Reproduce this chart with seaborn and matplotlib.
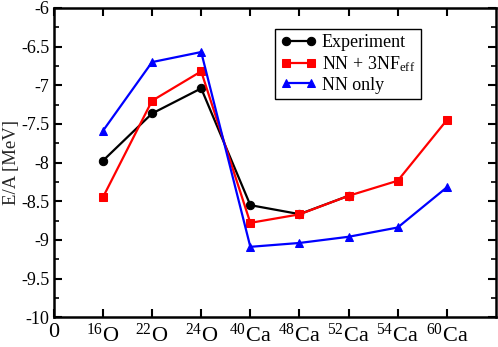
import pandas as pd
import matplotlib
matplotlib.use("Agg")
import matplotlib.pyplot as plt
import seaborn as sns

# isotope labels and values (E/A in MeV)
nuclei = [r'$^{16}$O', r'$^{22}$O', r'$^{24}$O', r'$^{40}$Ca', r'$^{48}$Ca',
          r'$^{52}$Ca', r'$^{54}$Ca', r'$^{60}$Ca']
exp_vals = [-7.976, -7.365, -7.04, -8.551, -8.667, -8.43]
nn3nf_vals = [-8.45, -7.20, -6.82, -8.78, -8.67, -8.43, -8.235, -7.45]
nn_vals = [-7.59, -6.70, -6.57, -9.09, -9.04, -8.96, -8.84, -8.32]
y_ticks = [-10, -9.5, -9, -8.5, -8, -7.5, -7, -6.5, -6]
y_labels = ['-10', '-9.5', '-9', '-8.5', '-8', '-7.5', '-7', '-6.5', '-6']

sns.set_style("ticks", {'axes.edgecolor': 'black', 'xtick.color': 'black',
                        'ytick.color': 'black', 'text.color': 'black'})
plt.rcParams['font.family'] = ['Liberation Serif', 'DejaVu Serif']
plt.rcParams['mathtext.fontset'] = 'custom'
plt.rcParams['mathtext.rm'] = 'Liberation Serif'
plt.rcParams['mathtext.it'] = 'Liberation Serif:italic'
plt.rcParams['axes.unicode_minus'] = False

fig = plt.figure(figsize=(4.98, 3.47), dpi=100)
ax = fig.add_axes([0.108, 0.086, 0.888, 0.891])

series = [
    ('Experiment', exp_vals, 'black', 'o', 6),
    ('NN + 3NF$_{\\mathrm{eff}}$', nn3nf_vals, 'red', 's', 5.5),
    ('NN only', nn_vals, 'blue', '^', 6),
]
for name, vals, col, mk, ms in series:
    df = pd.DataFrame({'x': range(1, len(vals) + 1), 'y': vals})
    sns.lineplot(data=df, x='x', y='y', ax=ax, color=col, marker=mk,
                 markersize=ms, markeredgecolor=col, linewidth=1.6,
                 label=name)

ax.set_xlim(0, 9)
ax.set_ylim(-10, -6)
ax.set_xticks(range(0, 9))
ax.set_xticklabels(['0'] + nuclei, fontsize=16)
ax.set_yticks(y_ticks)
ax.set_yticklabels(y_labels, fontsize=13)
ax.set_yticks([-9.75, -9.25, -8.75, -8.25, -7.75, -7.25, -6.75, -6.25], minor=True)
ax.tick_params(axis='both', which='major', direction='in', length=6, width=1.5,
               top=True, right=True, pad=3)
ax.tick_params(axis='x', which='major', pad=4.5)
ax.tick_params(axis='y', which='minor', direction='in', length=3.5, width=1.2,
               left=True, right=True)
ax.set_xlabel('')
ax.set_ylabel('E/A [MeV]', fontsize=13.5, labelpad=1)
for sp in ax.spines.values():
    sp.set_linewidth(1.8)
    sp.set_color('black')

leg = ax.legend(loc='upper left', bbox_to_anchor=(0.5, 0.932), fontsize=13,
                numpoints=2, handlelength=2.0, handletextpad=0.3,
                labelspacing=0.15, borderpad=0.3, borderaxespad=0,
                fancybox=False, framealpha=1, edgecolor='black')
leg.get_frame().set_linewidth(1.0)

fig.savefig('out.png', dpi=100)
